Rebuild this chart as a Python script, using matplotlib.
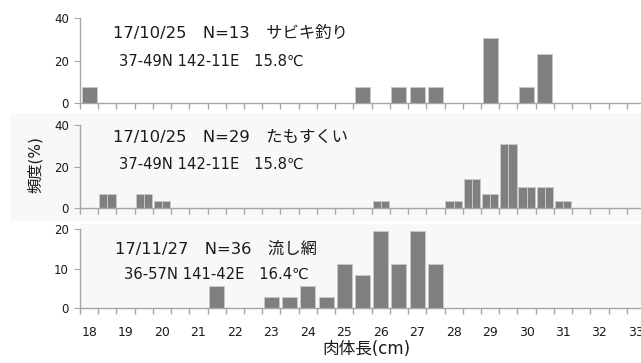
import matplotlib
matplotlib.use("Agg")
import matplotlib.pyplot as plt
from matplotlib.patches import Rectangle

plt.rcParams['font.family'] = ['DejaVu Sans', 'Noto Sans CJK JP']

# Body-length classes (cm), 0.5 cm steps
lengths = [18.0, 18.5, 19.0, 19.5, 20.0, 20.5, 21.0, 21.5, 22.0, 22.5,
           23.0, 23.5, 24.0, 24.5, 25.0, 25.5, 26.0, 26.5, 27.0, 27.5,
           28.0, 28.5, 29.0, 29.5, 30.0, 30.5, 31.0, 31.5, 32.0, 32.5, 33.0]

# Fish counts per length class for each sample
counts_sabiki = [1, 0, 0, 0, 0, 0, 0, 0, 0, 0, 0, 0, 0, 0, 0, 1, 0, 1, 1, 1,
                 0, 0, 4, 0, 1, 3, 0, 0, 0, 0, 0]
counts_tamo = [0, 2, 0, 2, 1, 0, 0, 0, 0, 0, 0, 0, 0, 0, 0, 0, 1, 0, 0, 0,
               1, 4, 2, 9, 3, 3, 1, 0, 0, 0, 0]
counts_net = [0, 0, 0, 0, 0, 0, 0, 2, 0, 0, 1, 1, 2, 1, 4, 3, 7, 4, 7, 4,
              0, 0, 0, 0, 0, 0, 0, 0, 0, 0, 0]
n_sabiki, n_tamo, n_net = 13, 29, 36

titles = ["17/10/25\u3000N=13\u3000サビキ釣り",
          "17/10/25\u3000N=29\u3000たもすくい",
          "17/11/27\u3000N=36\u3000流し網"]
stations = ["37-49N 142-11E\u300015.8℃",
            "37-49N 142-11E\u300015.8℃",
            "36-57N 141-42E\u300016.4℃"]
y_max = [40, 40, 20]
y_ticks = [[0, 20, 40], [0, 20, 40], [0, 10, 20]]

W, H = 641, 363
fig = plt.figure(figsize=(W / 100, H / 100), dpi=100)
fig.patch.set_facecolor('white')

BAR = '#7f7f7f'
EDGE = '#c8c8c8'
AXC = '#a6a6a6'
BG = '#f8f8f8'
TXT = '#1a1a1a'

# shaded bands behind the middle chart and the lower plot area
fig.add_artist(Rectangle((10 / W, 1 - 221 / H), 1, (221 - 113) / H,
                         transform=fig.transFigure, facecolor=BG,
                         edgecolor='none', zorder=0))
fig.add_artist(Rectangle((80 / W, 1 - 308 / H), 1, (308 - 224) / H,
                         transform=fig.transFigure, facecolor=BG,
                         edgecolor='none', zorder=0))

def px_axes(top, bottom, left=80, right=645):
    return fig.add_axes([left / W, 1 - bottom / H, (right - left) / W,
                         (bottom - top) / H])

panels = [(18, 103), (125, 208), (229, 308)]
series = [(counts_sabiki, n_sabiki), (counts_tamo, n_tamo), (counts_net, n_net)]
title_pos = [(113, 33, 119, 61), (113, 137, 119, 164), (115, 249, 124, 274)]

idx = list(range(len(lengths)))
for k, ((top, bot), (cnt, n)) in enumerate(zip(panels, series)):
    ax = px_axes(top, bot)
    ax.set_facecolor('none')
    pct = [c / n * 100 for c in cnt]
    if k == 1:
        # split columns (two halves per class)
        ax.bar([i - 0.225 for i in idx], pct, width=0.45, color=BAR,
               edgecolor=EDGE, linewidth=0.7, zorder=2)
        ax.bar([i + 0.225 for i in idx], pct, width=0.45, color=BAR,
               edgecolor=EDGE, linewidth=0.7, zorder=2)
    else:
        ax.bar(idx, pct, width=0.82, color=BAR, edgecolor=EDGE,
               linewidth=0.7, zorder=2)
    ax.set_xlim(-0.5, len(lengths) - 0.5)
    ax.set_ylim(0, y_max[k])
    for s in ['top', 'right']:
        ax.spines[s].set_visible(False)
    for s in ['left', 'bottom']:
        ax.spines[s].set_color(AXC)
        ax.spines[s].set_linewidth(1.0)
    ax.set_yticks(y_ticks[k])
    ax.tick_params(axis='y', length=4, color=AXC, labelsize=8.5,
                   labelcolor=TXT, pad=4)
    ax.set_xticks([i - 0.5 for i in range(len(lengths) + 1)])
    ax.set_xticklabels([])
    ax.tick_params(axis='x', length=4, color=AXC, width=1.0)
    if k == 2:
        lab_idx = [i for i in idx if lengths[i] == int(lengths[i])]
        ax.set_xticks(lab_idx, minor=True)
        ax.set_xticklabels([str(int(lengths[i])) for i in lab_idx], minor=True)
        ax.tick_params(axis='x', which='minor', length=0, labelsize=9,
                       labelcolor=TXT, pad=13)
    tx, ty, sx, sy = title_pos[k]
    fig.text(tx / W, 1 - ty / H, titles[k], fontsize=11.8, color=TXT,
             va='center', ha='left')
    fig.text(sx / W, 1 - sy / H, stations[k], fontsize=10.6, color=TXT,
             va='center', ha='left')

fig.text(35 / W, 1 - 165 / H, '頻度(%)', rotation=90, fontsize=11,
         color=TXT, va='center', ha='center')
fig.text(366 / W, 1 - 349 / H, '肉体長(cm)', fontsize=12, color=TXT,
         va='center', ha='center')

fig.savefig('out.png', dpi=100)
